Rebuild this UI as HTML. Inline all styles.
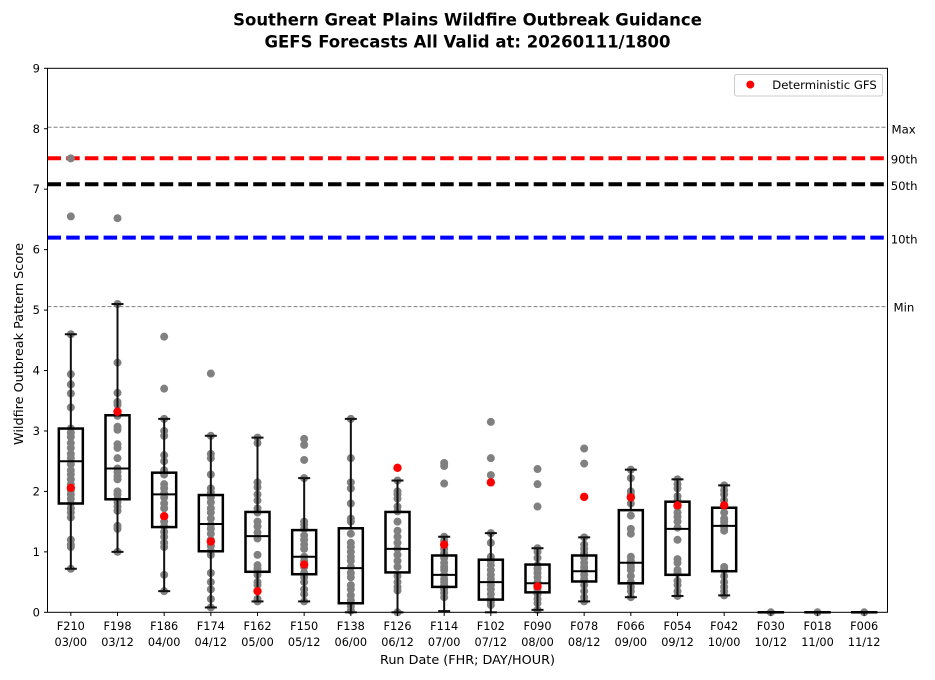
<!DOCTYPE html>
<html>
<head>
<meta charset="utf-8">
<style>
  html,body{margin:0;padding:0;background:#fff;}
  svg{display:block;}
  text{font-family:"DejaVu Sans","Liberation Sans",sans-serif;fill:#000;}
</style>
</head>
<body>
<svg id="chart" width="935" height="680" viewBox="0 0 935 680" xmlns="http://www.w3.org/2000/svg">
  <rect x="0" y="0" width="935" height="680" fill="#fff"/>
  <!-- Title -->
  <text x="467.5" y="25.5" font-size="16.5" font-weight="bold" text-anchor="middle">Southern Great Plains Wildfire Outbreak Guidance</text>
  <text x="467.5" y="47.5" font-size="16.5" font-weight="bold" text-anchor="middle">GEFS Forecasts All Valid at: 20260111/1800</text>

  <!-- reference lines -->
  <line x1="47.5" x2="887.5" y1="127.2" y2="127.2" stroke="#808080" stroke-width="1" stroke-dasharray="4,2"/>
  <line x1="47.5" x2="887.5" y1="306.6" y2="306.6" stroke="#808080" stroke-width="1" stroke-dasharray="4,2"/>
  <line x1="47.5" x2="887.5" y1="158.2" y2="158.2" stroke="#ff0000" stroke-width="4" stroke-dasharray="13.5,5.2"/>
  <line x1="47.5" x2="887.5" y1="184.2" y2="184.2" stroke="#000000" stroke-width="4" stroke-dasharray="13.5,5.2"/>
  <line x1="47.5" x2="887.5" y1="237.6" y2="237.6" stroke="#0000ff" stroke-width="4" stroke-dasharray="13.5,5.2"/>

  <g id="dots"></g>
  <g id="boxes"></g>
  <g id="reds"></g>

  <!-- axes frame -->
  <rect x="47.5" y="68.3" width="840" height="544" fill="none" stroke="#000" stroke-width="1"/>
  <g id="ticks"></g>

  <!-- y tick labels -->
  <g font-size="11.5" text-anchor="end">
    <text x="40" y="616.3">0</text>
    <text x="40" y="555.9">1</text>
    <text x="40" y="495.4">2</text>
    <text x="40" y="435.0">3</text>
    <text x="40" y="374.5">4</text>
    <text x="40" y="314.1">5</text>
    <text x="40" y="253.7">6</text>
    <text x="40" y="193.2">7</text>
    <text x="40" y="132.8">8</text>
    <text x="40" y="72.3">9</text>
  </g>

  <!-- x tick labels -->
  <g font-size="11.3" text-anchor="middle">
    <text x="70.8" y="630">F210</text><text x="70.8" y="646">03/00</text>
    <text x="117.5" y="630">F198</text><text x="117.5" y="646">03/12</text>
    <text x="164.2" y="630">F186</text><text x="164.2" y="646">04/00</text>
    <text x="210.8" y="630">F174</text><text x="210.8" y="646">04/12</text>
    <text x="257.5" y="630">F162</text><text x="257.5" y="646">05/00</text>
    <text x="304.2" y="630">F150</text><text x="304.2" y="646">05/12</text>
    <text x="350.8" y="630">F138</text><text x="350.8" y="646">06/00</text>
    <text x="397.5" y="630">F126</text><text x="397.5" y="646">06/12</text>
    <text x="444.2" y="630">F114</text><text x="444.2" y="646">07/00</text>
    <text x="490.8" y="630">F102</text><text x="490.8" y="646">07/12</text>
    <text x="537.5" y="630">F090</text><text x="537.5" y="646">08/00</text>
    <text x="584.2" y="630">F078</text><text x="584.2" y="646">08/12</text>
    <text x="630.8" y="630">F066</text><text x="630.8" y="646">09/00</text>
    <text x="677.5" y="630">F054</text><text x="677.5" y="646">09/12</text>
    <text x="724.2" y="630">F042</text><text x="724.2" y="646">10/00</text>
    <text x="770.8" y="630">F030</text><text x="770.8" y="646">10/12</text>
    <text x="817.5" y="630">F018</text><text x="817.5" y="646">11/00</text>
    <text x="864.2" y="630">F006</text><text x="864.2" y="646">11/12</text>
  </g>

  <!-- axis labels -->
  <text x="467.5" y="664" font-size="12.8" text-anchor="middle">Run Date (FHR; DAY/HOUR)</text>
  <text transform="translate(23,344) rotate(-90)" font-size="12.8" text-anchor="middle">Wildfire Outbreak Pattern Score</text>

  <!-- right labels -->
  <g font-size="11.7">
    <text x="891.5" y="133.5">Max</text>
    <text x="890.7" y="163.5">90th</text>
    <text x="890.7" y="190">50th</text>
    <text x="890.7" y="243.5">10th</text>
    <text x="893.5" y="311.5">Min</text>
  </g>

  <!-- legend -->
  <rect x="734.5" y="74.5" width="148" height="21.5" rx="2" ry="2" fill="#fff" fill-opacity="0.8" stroke="#cccccc" stroke-width="1"/>
  <circle cx="750.3" cy="84.6" r="4" fill="#ff0000"/>
  <text x="772.3" y="89" font-size="11.65">Deterministic GFS</text>
</svg>
<script>
(function(){
  var NS="http://www.w3.org/2000/svg";
  function X(i){return 47.5+46.667*(i+0.5);}
  function Y(v){return 612.3-60.444*v;}
  function el(tag,attrs,parent){var e=document.createElementNS(NS,tag);for(var k in attrs)e.setAttribute(k,attrs[k]);parent.appendChild(e);return e;}
  var data=[
   {q1:1.80,med:2.50,q3:3.04,lo:0.72,hi:4.6,red:2.06,p:[7.51,6.55,4.6,3.94,3.77,3.62,3.39,3.04,2.97,2.9,2.8,2.72,2.62,2.55,2.45,2.35,2.28,2.2,2.12,2.02,1.95,1.88,1.8,1.72,1.65,1.57,1.2,1.12,1.08,0.72]},
   {q1:1.87,med:2.38,q3:3.26,lo:1.0,hi:5.1,red:3.32,p:[6.52,5.1,4.13,3.63,3.48,3.43,3.3,3.25,3.07,3.02,2.78,2.72,2.55,2.38,2.32,2.25,2.2,2.0,1.95,1.88,1.82,1.75,1.68,1.43,1.38,1.0]},
   {q1:1.41,med:1.95,q3:2.31,lo:0.35,hi:3.2,red:1.59,p:[4.56,3.7,3.2,3.0,2.92,2.6,2.5,2.35,2.28,2.12,2.05,1.97,1.9,1.8,1.72,1.58,1.5,1.42,1.33,1.25,1.15,1.08,0.62,0.35]},
   {q1:1.01,med:1.46,q3:1.94,lo:0.08,hi:2.92,red:1.17,p:[3.95,2.92,2.62,2.55,2.28,2.05,1.98,1.9,1.82,1.72,1.65,1.55,1.45,1.38,1.3,1.2,1.1,1.02,0.95,0.65,0.5,0.38,0.22,0.08]},
   {q1:0.67,med:1.26,q3:1.66,lo:0.18,hi:2.89,red:0.35,p:[2.89,2.8,2.15,2.07,1.95,1.85,1.72,1.65,1.5,1.42,1.32,1.22,0.95,0.78,0.72,0.62,0.5,0.45,0.22,0.18]},
   {q1:0.63,med:0.92,q3:1.36,lo:0.18,hi:2.22,red:0.79,p:[2.87,2.77,2.52,2.22,1.5,1.45,1.38,1.27,1.2,1.12,1.05,0.92,0.85,0.75,0.65,0.58,0.5,0.38,0.3,0.18]},
   {q1:0.15,med:0.73,q3:1.39,lo:0.0,hi:3.2,red:null,p:[3.2,2.55,2.15,2.05,1.8,1.55,1.5,1.3,1.15,1.08,1.0,0.92,0.85,0.75,0.65,0.58,0.45,0.38,0.28,0.2,0.1,0.03]},
   {q1:0.66,med:1.05,q3:1.66,lo:0.0,hi:2.18,red:2.39,p:[2.18,2.0,1.95,1.88,1.75,1.67,1.5,1.35,1.25,1.15,1.05,0.95,0.85,0.75,0.6,0.5,0.42,0.36,0.0]},
   {q1:0.42,med:0.62,q3:0.94,lo:0.02,hi:1.25,red:1.12,p:[2.47,2.42,2.13,1.25,1.18,1.05,0.98,0.9,0.82,0.75,0.7,0.62,0.55,0.5,0.45,0.38,0.32,0.25]},
   {q1:0.21,med:0.50,q3:0.87,lo:0.0,hi:1.31,red:2.15,p:[3.15,2.55,2.27,1.31,1.15,0.92,0.85,0.78,0.7,0.62,0.55,0.45,0.38,0.3,0.22,0.17,0.12]},
   {q1:0.33,med:0.48,q3:0.79,lo:0.04,hi:1.06,red:0.43,p:[2.37,2.12,1.75,1.06,1.0,0.9,0.78,0.72,0.65,0.58,0.5,0.45,0.38,0.3,0.22,0.15,0.04]},
   {q1:0.51,med:0.68,q3:0.94,lo:0.18,hi:1.24,red:1.91,p:[2.71,2.46,1.24,1.12,1.05,0.98,0.9,0.82,0.75,0.7,0.62,0.55,0.45,0.35,0.25,0.18]},
   {q1:0.48,med:0.82,q3:1.69,lo:0.25,hi:2.36,red:1.90,p:[2.36,2.22,2.0,1.95,1.8,1.6,1.38,1.3,0.92,0.85,0.8,0.75,0.7,0.6,0.5,0.42,0.35,0.25]},
   {q1:0.62,med:1.38,q3:1.83,lo:0.27,hi:2.20,red:1.77,p:[2.2,2.12,2.05,1.92,1.85,1.75,1.65,1.58,1.5,1.4,1.2,0.88,0.82,0.7,0.65,0.52,0.45,0.35,0.27]},
   {q1:0.68,med:1.43,q3:1.73,lo:0.28,hi:2.10,red:1.77,p:[2.1,2.02,1.95,1.85,1.75,1.65,1.55,1.5,1.45,1.4,1.35,0.75,0.7,0.6,0.5,0.42,0.35,0.28]},
   {q1:0,med:0,q3:0,lo:0,hi:0,red:null,p:[0]},
   {q1:0,med:0,q3:0,lo:0,hi:0,red:null,p:[0]},
   {q1:0,med:0,q3:0,lo:0,hi:0,red:null,p:[0]}
  ];
  var dots=document.getElementById("dots"),boxes=document.getElementById("boxes"),reds=document.getElementById("reds"),ticks=document.getElementById("ticks");
  data.forEach(function(d,i){
    var x=X(i);
    d.p.forEach(function(v){el("circle",{cx:x,cy:Y(v),r:4,fill:"#808080"},dots);});
    var sw=2,hw=12,cw=6,c="#111";
    // whiskers
    el("line",{x1:x,x2:x,y1:Y(d.q3),y2:Y(d.hi),stroke:c,"stroke-width":sw},boxes);
    el("line",{x1:x,x2:x,y1:Y(d.q1),y2:Y(d.lo),stroke:c,"stroke-width":sw},boxes);
    el("line",{x1:x-cw,x2:x+cw,y1:Y(d.hi),y2:Y(d.hi),stroke:c,"stroke-width":sw},boxes);
    el("line",{x1:x-cw,x2:x+cw,y1:Y(d.lo),y2:Y(d.lo),stroke:c,"stroke-width":sw},boxes);
    // box
    var yt=Y(d.q3),yb=Y(d.q1);
    el("rect",{x:x-hw,y:yt,width:2*hw,height:Math.max(yb-yt,0.01),fill:"none",stroke:"#000","stroke-width":sw+0.5},boxes);
    el("line",{x1:x-hw,x2:x+hw,y1:Y(d.med),y2:Y(d.med),stroke:"#000","stroke-width":sw},boxes);
    if(d.red!==null) el("circle",{cx:x,cy:Y(d.red),r:4.2,fill:"#ff0000"},reds);
    // x tick
    el("line",{x1:x,x2:x,y1:612.3,y2:616,stroke:"#000","stroke-width":1},ticks);
  });
  for(var v=0;v<=9;v++){
    el("line",{x1:44,x2:47.5,y1:Y(v),y2:Y(v),stroke:"#000","stroke-width":1},ticks);
  }
})();
</script>
</body>
</html>
